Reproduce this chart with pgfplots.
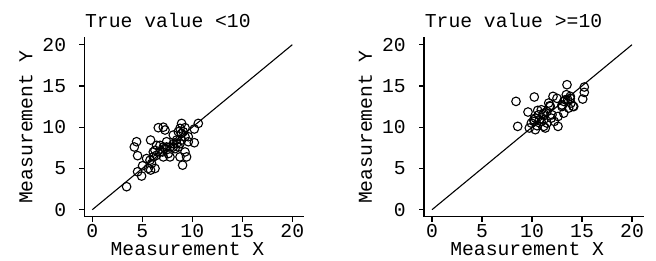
\documentclass[border=0pt]{standalone}
\usepackage{pgfplots}
\pgfplotsset{compat=1.18}
\usepackage{fontspec}
\setmainfont{Liberation Mono}
\newcommand{\chartfont}{\fontsize{19.7bp}{21bp}\selectfont}
\pgfplotsset{
  meas/.style={
    scale only axis, width=220bp, height=179.4bp,
    xmin=-0.8, xmax=21.2, ymin=-0.85, ymax=20.9,
    axis x line*=bottom, axis y line*=left,
    axis line style={-, line width=1.2bp},
    tick align=outside, major tick length=5bp,
    tick style={line width=1.2bp, black},
    xtick={0,5,10,15,20}, ytick={0,5,10,15,20},
    font=\chartfont,
    /pgf/number format/assume math mode=true,
    xticklabel style={anchor=base, inner sep=0pt, yshift=-15.5bp},
    yticklabel style={anchor=east, inner sep=0pt, xshift=-13bp},
    xlabel={Measurement X},
    ylabel={Measurement Y},
    xlabel style={at={(axis description cs:0.469,-0.2135)}, anchor=base, inner sep=0pt},
    ylabel style={at={(axis description cs:-0.2364,0.5)}, anchor=base, inner sep=0pt},
    title style={at={(axis description cs:0.003,1.020)}, anchor=base west, inner sep=0pt},
    clip=false,
  },
  pts/.style={only marks, mark=o, mark size=4.3bp, mark options={line width=1.1bp, black}},
  diag/.style={no marks, black, line width=1.1bp},
}
\begin{document}
\begin{tikzpicture}
\useasboundingbox (-84.3bp,-44.3bp) rectangle (571.7bp,216.7bp);
\begin{axis}[meas, at={(0,0)}, anchor=south west, title={True value <10}]
\addplot[diag] coordinates {(0,0) (20,20)};
\addplot[pts] coordinates {
(3.43,2.79) (4.43,8.24) (4.2,7.6) (4.53,6.55) (4.53,4.6) (4.93,4.08)
(5.03,5.33) (5.43,6.2) (5.83,8.44) (5.83,4.8) (5.93,5.6) (6.1,7.0)
(6.27,5.0) (6.43,7.8) (6.6,9.94) (7.1,10.0) (7.27,9.66) (6.77,7.0)
(7.1,6.4) (7.27,7.43) (7.43,8.24) (7.6,6.8) (7.77,6.4) (8.1,8.0)
(8.1,9.05) (8.43,8.44) (8.6,7.6) (8.77,6.4) (9.03,5.4) (8.93,8.44)
(8.93,10.46) (8.77,9.86) (9.1,9.45) (9.27,8.85) (9.27,7.0) (9.43,6.4)
(9.6,8.24) (9.27,9.94) (10.2,9.78) (10.2,8.12) (10.6,10.46) (9.6,8.85)
(5.6,5.0) (6.77,7.8) (7.77,7.6) (8.1,7.6) (8.27,7.4) (7.43,7.6)
(6.43,6.6) (6.1,6.4) (7.1,7.6) (8.6,9.45) (8.93,9.25) (8.43,8.0)
(8.77,8.0) (6.27,7.2) (5.77,6.0) (7.03,7.0)
};
\end{axis}
\begin{axis}[meas, at={(339.7bp,0)}, anchor=south west, title={True value >=10}]
\addplot[diag] coordinates {(0,0) (20,20)};
\addplot[pts] coordinates {
(8.4,13.13) (8.57,10.1) (9.6,11.84) (9.73,9.9) (9.93,10.5) (10.23,13.66)
(10.23,10.7) (10.33,9.7) (10.5,10.18) (10.57,12.04) (10.73,10.9) (10.93,12.12)
(11.1,11.5) (11.17,10.9) (11.33,9.9) (11.5,10.5) (11.67,12.93) (11.83,12.53)
(11.93,11.1) (12.1,13.74) (12.23,10.7) (12.5,13.5) (12.6,11.3) (12.6,10.1)
(13.0,12.7) (13.17,11.7) (13.33,13.33) (13.43,13.94) (13.5,15.15) (13.67,12.32)
(13.83,13.5) (13.9,12.93) (14.1,12.53) (14.17,12.5) (13.83,13.74) (15.07,13.41)
(15.23,14.22) (15.23,14.87) (11.17,11.7) (10.67,11.5) (10.33,11.1) (11.5,11.9)
(11.77,12.6) (13.0,12.5) (12.0,11.5) (10.17,10.9) (10.9,10.7) (13.17,13.13)
(13.57,13.33) (11.17,10.1)
};
\end{axis}
\end{tikzpicture}
\end{document}
